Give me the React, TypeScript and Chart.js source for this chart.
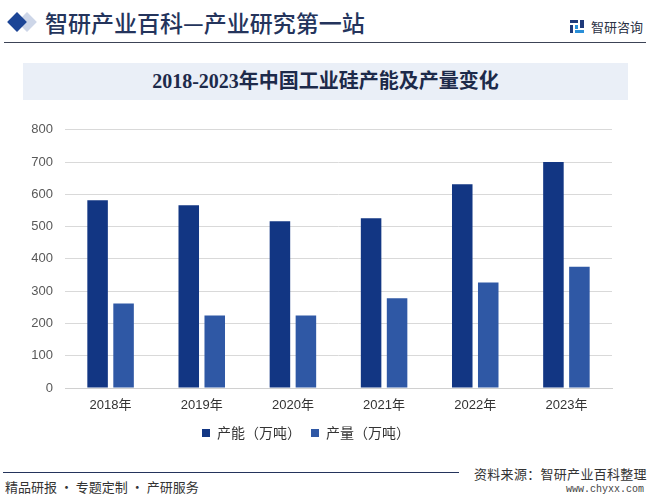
import React, { useEffect, useRef } from "react";
import { Chart, registerables } from "chart.js";

Chart.register(...registerables);

const categories = ["2018年", "2019年", "2020年", "2021年", "2022年", "2023年"];
const capacity = [582, 566, 517, 526, 631, 700];
const output = [262, 225, 225, 278, 327, 376];
const seriesNames = ["产能（万吨）", "产量（万吨）"];
const yTicks = [0, 100, 200, 300, 400, 500, 600, 700, 800];

const CJK = '"Noto Sans CJK SC", "Noto Sans", sans-serif';

export default function App() {
  const ref = useRef<HTMLCanvasElement>(null);

  useEffect(() => {
    if (!ref.current) return;
    const chart = new Chart(ref.current, {
      type: "bar",
      data: {
        labels: categories,
        datasets: [
          {
            label: seriesNames[0],
            data: capacity,
            backgroundColor: "#123683",
            categoryPercentage: 0.57,
            barPercentage: 0.79,
          },
          {
            label: seriesNames[1],
            data: output,
            backgroundColor: "#2f58a5",
            categoryPercentage: 0.57,
            barPercentage: 0.79,
          },
        ],
      },
      options: {
        responsive: false,
        animation: false,
        layout: { padding: { left: 0, right: 39, top: 18, bottom: 0 } },
        plugins: {
          legend: {
            position: "bottom",
            labels: {
              boxWidth: 8,
              boxHeight: 8,
              padding: 10,
              color: "#333333",
              font: { family: CJK, size: 14 },
            },
          },
          tooltip: { enabled: false },
        },
        scales: {
          x: {
            grid: { display: false, drawTicks: false },
            border: { display: true, color: "#d0d0d0" },
            ticks: {
              color: "#333333",
              padding: 10,
              font: { family: '"Liberation Sans", ' + CJK, size: 13 },
            },
            afterFit: (s: any) => {
              s.height = 28;
            },
          },
          y: {
            min: 0,
            max: 800,
            afterBuildTicks: (s: any) => {
              s.ticks = yTicks.map((v) => ({ value: v }));
            },
            grid: { color: "#d9d9d9", drawTicks: false },
            border: { display: false },
            ticks: {
              color: "#595959",
              padding: 12,
              font: { family: '"Liberation Sans", sans-serif', size: 13 },
            },
            afterFit: (s: any) => {
              s.width = 65;
            },
          },
        },
      },
    });
    return () => chart.destroy();
  }, []);

  return (
    <div
      style={{
        position: "fixed",
        left: 0,
        top: 0,
        width: 651,
        height: 499,
        background: "#ffffff",
        overflow: "hidden",
        fontFamily: CJK,
      }}
    >
      {/* header diamonds */}
      <div
        style={{
          position: "absolute",
          left: 20,
          top: 15,
          width: 14,
          height: 14,
          background: "#cdd6e8",
          transform: "rotate(45deg)",
        }}
      />
      <div
        style={{
          position: "absolute",
          left: 10,
          top: 15,
          width: 14,
          height: 14,
          background: "#1c4596",
          transform: "rotate(45deg)",
        }}
      />
      <div
        style={{
          position: "absolute",
          left: 45,
          top: 6,
          fontSize: 23,
          lineHeight: "32px",
          color: "#24345c",
          fontWeight: 500,
          whiteSpace: "nowrap",
        }}
      >
        智研产业百科—产业研究第一站
      </div>
      {/* logo */}
      <div style={{ position: "absolute", left: 570, top: 20, width: 14, height: 13 }}>
        <div style={{ position: "absolute", left: 0, top: 0, width: 8, height: 3, background: "#1f3a7a" }} />
        <div style={{ position: "absolute", left: 0, top: 5, width: 3, height: 8, background: "#1f3a7a" }} />
        <div style={{ position: "absolute", left: 5, top: 5, width: 3, height: 4, background: "#2a8fd8" }} />
        <div style={{ position: "absolute", left: 10, top: 0, width: 4, height: 8, background: "#1f3a7a" }} />
        <div style={{ position: "absolute", left: 5, top: 10, width: 9, height: 3, background: "#2a8fd8" }} />
      </div>
      <div
        style={{
          position: "absolute",
          left: 591,
          top: 17,
          fontSize: 13,
          lineHeight: "20px",
          color: "#2b3245",
          whiteSpace: "nowrap",
        }}
      >
        智研咨询
      </div>
      <div
        style={{
          position: "absolute",
          left: 4,
          top: 42,
          width: 642,
          height: 1,
          background: "#3c4356",
        }}
      />
      {/* title box */}
      <div
        style={{
          position: "absolute",
          left: 23,
          top: 63,
          width: 605,
          height: 37,
          background: "#eaeff7",
        }}
      />
      <div
        style={{
          position: "absolute",
          left: 23,
          top: 63,
          width: 605,
          height: 37,
          lineHeight: "37px",
          textAlign: "center",
          fontSize: 20,
          fontWeight: 700,
          color: "#1d2a4a",
          fontFamily: '"Liberation Serif", ' + CJK,
          whiteSpace: "nowrap",
        }}
      >
        2018-2023年中国工业硅产能及产量变化
      </div>
      {/* chart */}
      <canvas
        ref={ref}
        width={651}
        height={340}
        style={{ position: "absolute", left: 0, top: 110, width: 651, height: 340 }}
      />
      {/* footer */}
      <div
        style={{
          position: "absolute",
          left: 3,
          top: 472,
          width: 456,
          height: 1,
          background: "#24345c",
        }}
      />
      <div
        style={{
          position: "absolute",
          left: 474,
          top: 464,
          fontSize: 13,
          letterSpacing: 0.3,
          lineHeight: "20px",
          color: "#333333",
          whiteSpace: "nowrap",
        }}
      >
        资料来源：智研产业百科整理
      </div>
      <div
        style={{
          position: "absolute",
          left: 5,
          top: 478,
          fontSize: 13,
          lineHeight: "18px",
          color: "#333333",
          whiteSpace: "nowrap",
        }}
      >
        精品研报 · 专题定制 · 产研服务
      </div>
      <div
        style={{
          position: "absolute",
          left: 566,
          top: 483,
          fontSize: 10,
          lineHeight: "14px",
          color: "#444444",
          fontFamily: '"Liberation Mono", monospace',
          whiteSpace: "nowrap",
        }}
      >
        www.chyxx.com
      </div>
    </div>
  );
}
